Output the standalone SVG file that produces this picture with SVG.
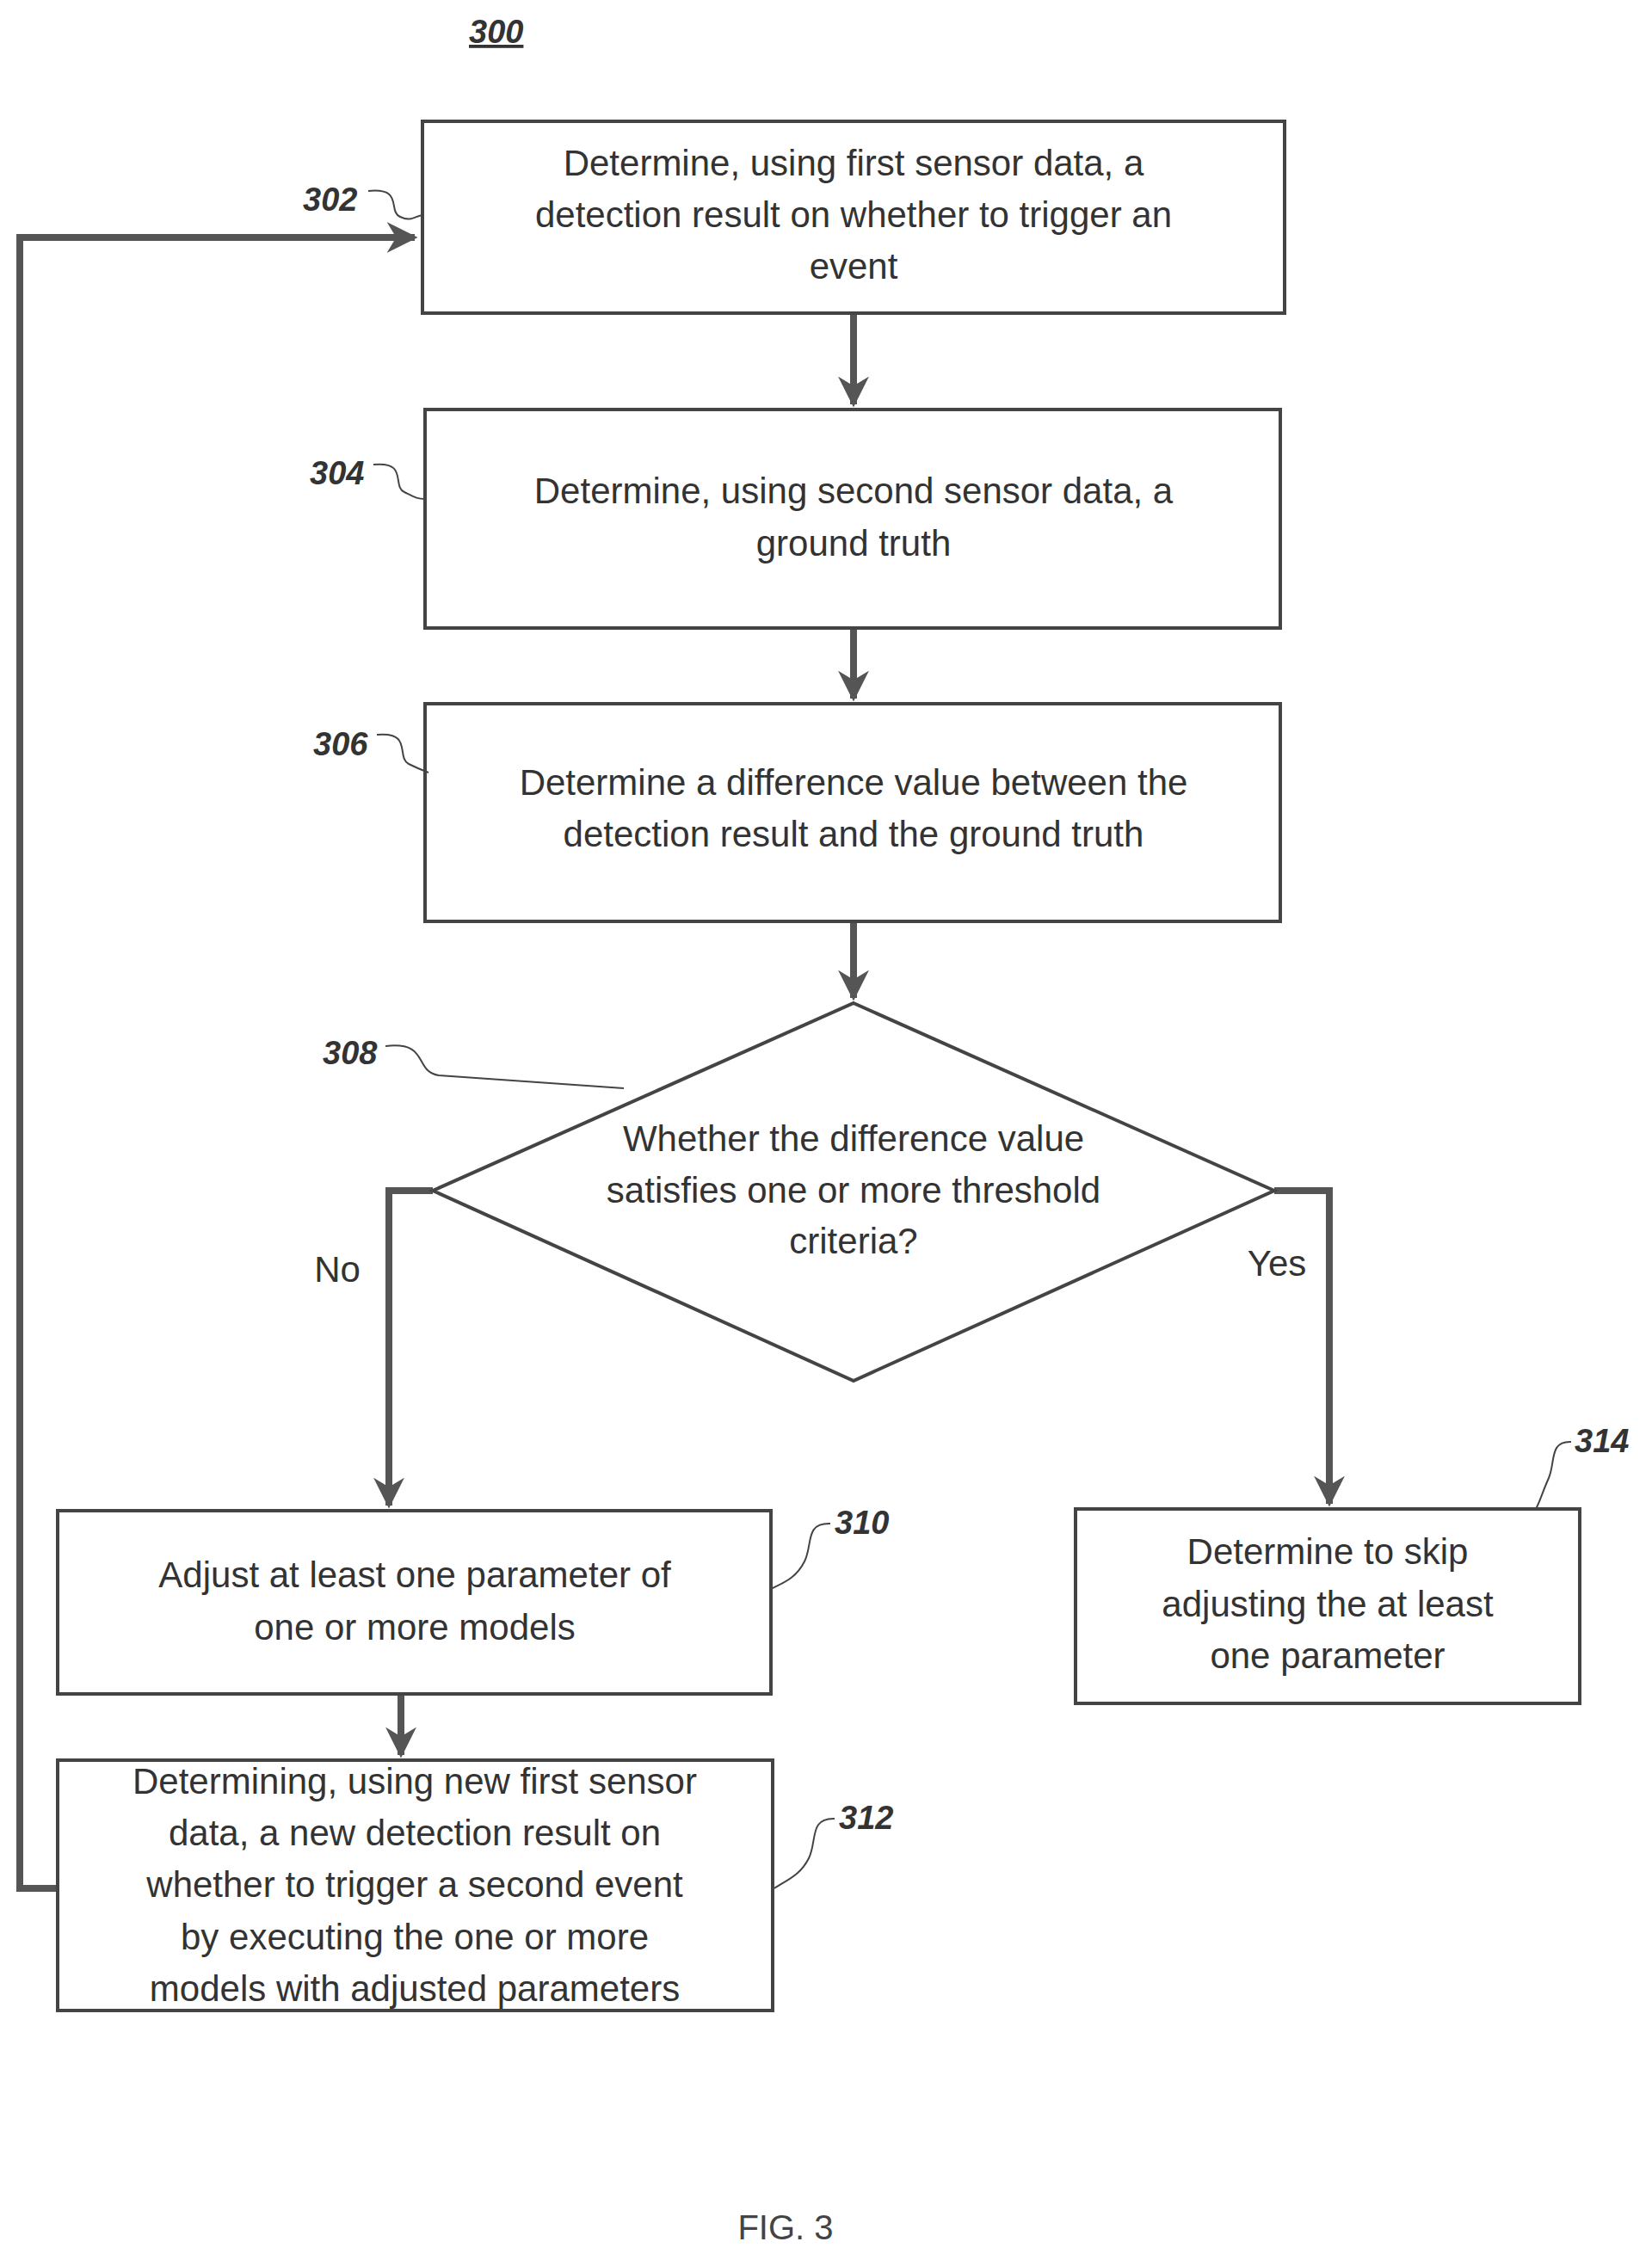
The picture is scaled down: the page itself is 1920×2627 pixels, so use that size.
<svg xmlns="http://www.w3.org/2000/svg" width="1920" height="2627" viewBox="0 0 1920 2627">
<style>
.box{fill:#fff;stroke:#444;stroke-width:4}
.t{font-family:"Liberation Sans",Arial,sans-serif;font-size:42px;fill:#333;text-anchor:middle}
.ref{font-family:"Liberation Sans",Arial,sans-serif;font-size:38px;font-style:italic;font-weight:bold;fill:#333}
.c{fill:none;stroke:#555;stroke-width:8}
.ld{fill:none;stroke:#444;stroke-width:2}
</style>
<defs>
<marker id="a" viewBox="0 0 10 10" refX="9" refY="5" markerWidth="4.5" markerHeight="4.5" orient="auto" markerUnits="strokeWidth">
<path d="M0,0 L10,5 L0,10 L3,5 Z" fill="#555"/>
</marker>
</defs>
<rect width="1920" height="2627" fill="#fff"/>
<text class="ref" x="545" y="50" text-decoration="underline">300</text>
<g id="connectors">
<path class="c" d="M992,366 V470" marker-end="url(#a)"/>
<path class="c" d="M992,732 V812" marker-end="url(#a)"/>
<path class="c" d="M992,1073 V1160" marker-end="url(#a)"/>
<path class="c" d="M503,1384 H452 V1750" marker-end="url(#a)"/>
<path class="c" d="M1481,1384 H1545 V1748" marker-end="url(#a)"/>
<path class="c" d="M466,1971 V2040" marker-end="url(#a)"/>
<path class="c" d="M67,2195 H23 V276 H482" marker-end="url(#a)"/>
<text class="t" x="392" y="1490">No</text>
<text class="t" x="1484" y="1483">Yes</text>
</g>
<g id="n302">
<rect class="box" x="491" y="141" width="1002" height="223"/>
<text class="t" x="992" y="204">Determine, using first sensor data, a</text>
<text class="t" x="992" y="264">detection result on whether to trigger an</text>
<text class="t" x="992" y="324">event</text>
<text class="ref" x="352" y="245">302</text>
<path class="ld" d="M428,222 C470,218 450,245 465,252 C478,258 480,252 491,250"/>
</g>
<g id="n304">
<rect class="box" x="494" y="476" width="994" height="254"/>
<text class="t" x="992" y="585">Determine, using second sensor data, a</text>
<text class="t" x="992" y="646">ground truth</text>
<text class="ref" x="360" y="563">304</text>
<path class="ld" d="M434,540 C475,536 455,565 470,572 C482,578 485,580 494,580"/>
</g>
<g id="n306">
<rect class="box" x="494" y="818" width="994" height="253"/>
<text class="t" x="992" y="924">Determine a difference value between the</text>
<text class="t" x="992" y="984">detection result and the ground truth</text>
<text class="ref" x="364" y="878">306</text>
<path class="ld" d="M438,854 C480,850 460,880 475,888 C485,893 490,895 498,898"/>
</g>
<g id="n308">
<polygon class="box" points="992,1166 1481,1384 992,1605 503,1384"/>
<text class="t" x="992" y="1338">Whether the difference value</text>
<text class="t" x="992" y="1398">satisfies one or more threshold</text>
<text class="t" x="992" y="1457">criteria?</text>
<text class="ref" x="375" y="1237">308</text>
<path class="ld" d="M448,1216 C500,1210 480,1245 510,1250 L725,1265"/>
</g>
<g id="n310">
<rect class="box" x="67" y="1756" width="829" height="213"/>
<text class="t" x="482" y="1845">Adjust at least one parameter of</text>
<text class="t" x="482" y="1906">one or more models</text>
<text class="ref" x="970" y="1783">310</text>
<path class="ld" d="M965,1771 C935,1770 945,1795 935,1815 C925,1835 910,1840 896,1847"/>
</g>
<g id="n312">
<rect class="box" x="67" y="2046" width="831" height="291"/>
<text class="t" x="482" y="2085">Determining, using new first sensor</text>
<text class="t" x="482" y="2145">data, a new detection result on</text>
<text class="t" x="482" y="2205">whether to trigger a second event</text>
<text class="t" x="482" y="2266">by executing the one or more</text>
<text class="t" x="482" y="2326">models with adjusted parameters</text>
<text class="ref" x="975" y="2126">312</text>
<path class="ld" d="M970,2114 C940,2113 950,2140 940,2160 C930,2180 915,2185 900,2195"/>
</g>
<g id="n314">
<rect class="box" x="1250" y="1754" width="586" height="226"/>
<text class="t" x="1543" y="1818">Determine to skip</text>
<text class="t" x="1543" y="1879">adjusting the at least</text>
<text class="t" x="1543" y="1939">one parameter</text>
<text class="ref" x="1830" y="1688">314</text>
<path class="ld" d="M1826,1676 C1800,1675 1808,1700 1800,1718 C1792,1736 1790,1745 1785,1754"/>
</g>
<text class="t" x="913" y="2603" style="font-size:40px;fill:#444">FIG. 3</text>
</svg>
